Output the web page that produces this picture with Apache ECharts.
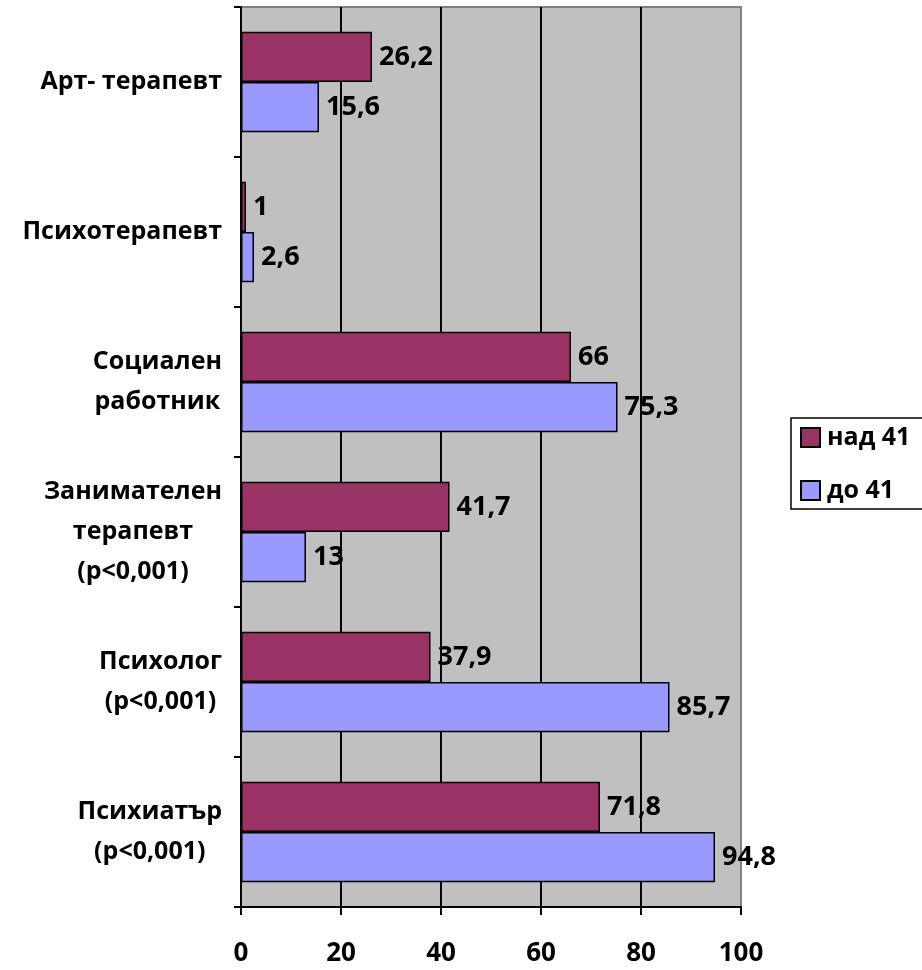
<!DOCTYPE html>
<html>
<head>
<meta charset="utf-8">
<script src="https://cdn.jsdelivr.net/npm/echarts@6/dist/echarts.min.js"></script>
<style>
  html, body { margin: 0; padding: 0; background: #fff; }
  #chart { width: 922px; height: 970px; }
</style>
</head>
<body>
<div id="chart"></div>
<script>
// categories bottom -> top (category y axis starts at the bottom)
const categories = [
    'Психиатър\n(p<0,001)',
    'Психолог\n(p<0,001)',
    'Занимателен\nтерапевт\n(p<0,001)',
    'Социален\nработник',
    'Психотерапевт',
    'Арт- терапевт'
];
const over41 = [71.8, 37.9, 41.7, 66, 1, 26.2];
const upTo41 = [94.8, 85.7, 13, 75.3, 2.6, 15.6];
const xTicks = [0, 20, 40, 60, 80, 100];

const fontFamily = '"Open Sans", "DejaVu Sans", sans-serif';

const chart = echarts.init(document.getElementById('chart'));

function commaLabel(p) {
    return String(p.value).replace('.', ',');
}

function makeSerie(name, data, color) {
    return {
        name: name,
        type: 'bar',
        data: data,
        barGap: '0%',
        barCategoryGap: '33%',
        itemStyle: {
            color: color,
            borderColor: '#000',
            borderWidth: 1.5
        },
        label: {
            show: true,
            position: 'right',
            distance: 7,
            formatter: commaLabel,
            color: '#000',
            fontFamily: fontFamily,
            fontWeight: 'bold',
            fontSize: 27
        }
    };
}

let option = {
    animation: false,
    backgroundColor: '#fff',
    grid: {
        show: true,
        left: 241,
        top: 7,
        width: 500,
        height: 900,
        containLabel: false,
        backgroundColor: '#C0C0C0',
        borderColor: '#808080',
        borderWidth: 2
    },
    legend: {
        orient: 'vertical',
        left: 791,
        top: 418,
        data: ['над 41', 'до 41'],
        itemWidth: 19,
        itemHeight: 19,
        itemGap: 28,
        padding: [7, 40, 6, 9],
        borderColor: '#000',
        borderWidth: 1.5,
        icon: 'rect',
        textStyle: {
            fontFamily: fontFamily,
            fontWeight: 'bold',
            fontSize: 25,
            lineHeight: 19,
            color: '#000',
            padding: [0, 0, 0, 2]
        }
    },
    xAxis: {
        type: 'value',
        min: xTicks[0],
        max: xTicks[xTicks.length - 1],
        interval: 20,
        axisLine: { show: true, lineStyle: { color: '#000', width: 2 } },
        axisTick: { show: true, length: 8, lineStyle: { color: '#000', width: 2 } },
        axisLabel: {
            margin: 34,
            color: '#000',
            fontFamily: fontFamily,
            fontWeight: 'bold',
            fontSize: 26
        },
        splitLine: {
            show: true,
            lineStyle: {
                color: ['#000', '#000', '#000', '#000', '#000', '#808080'],
                width: 2
            }
        }
    },
    yAxis: {
        type: 'category',
        data: categories,
        axisLine: { show: true, lineStyle: { color: '#000', width: 2 } },
        axisTick: { show: true, length: 7, lineStyle: { color: '#000', width: 2 } },
        axisLabel: {
            margin: 19,
            align: 'right',
            formatter: function(v) {
                return v.split('\n').map(function(s) { return '{c|' + s + '}'; }).join('\n');
            },
            rich: {
                c: {
                    align: 'center',
                    lineHeight: 40,
                    fontFamily: fontFamily,
                    fontWeight: 'bold',
                    fontSize: 25,
                    color: '#000'
                }
            }
        }
    },
    series: [
        makeSerie('над 41', over41, '#993366'),
        makeSerie('до 41', upTo41, '#9999FF')
    ]
};

chart.setOption(option);
</script>
</body>
</html>
